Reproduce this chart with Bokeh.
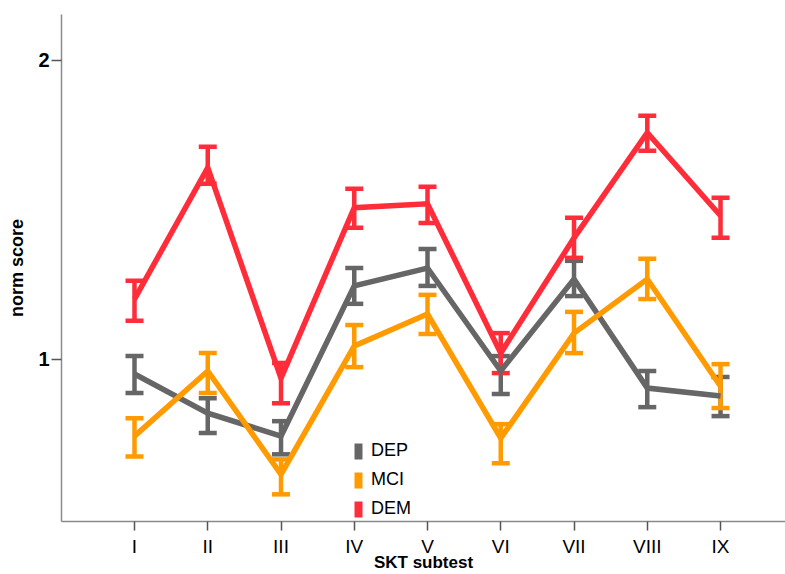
from bokeh.plotting import figure
from bokeh.models import Range1d, FixedTicker, Whisker, ColumnDataSource, Legend, LegendItem, TeeHead
from bokeh.embed import file_html
from bokeh.resources import INLINE

categories = ["I", "II", "III", "IV", "V", "VI", "VII", "VIII", "IX"]

dep_mean = [0.950, 0.819, 0.742, 1.245, 1.305, 0.960, 1.268, 0.903, 0.876]
dep_upper = [1.010, 0.869, 0.792, 1.305, 1.369, 1.010, 1.329, 0.960, 0.940]
dep_lower = [0.886, 0.752, 0.681, 1.185, 1.245, 0.883, 1.211, 0.839, 0.809]

mci_mean = [0.742, 0.960, 0.614, 1.044, 1.151, 0.735, 1.087, 1.268, 0.909]
mci_upper = [0.802, 1.020, 0.664, 1.114, 1.215, 0.782, 1.158, 1.336, 0.983]
mci_lower = [0.674, 0.886, 0.547, 0.973, 1.084, 0.651, 1.020, 1.201, 0.836]

dem_mean = [1.201, 1.641, 0.936, 1.507, 1.520, 1.020, 1.406, 1.758, 1.480]
dem_upper = [1.262, 1.711, 0.987, 1.570, 1.577, 1.087, 1.473, 1.815, 1.540]
dem_lower = [1.128, 1.587, 0.852, 1.440, 1.456, 0.953, 1.339, 1.698, 1.406]

groups = ["DEP", "MCI", "DEM"]
colors = ["#666666", "#ff9a00", "#ff2d3a"]
y_ticks = [1, 2]

FONT = "Liberation Sans"

p = figure(width=785, height=574, output_backend="svg", toolbar_location=None,
           x_range=Range1d(0.0034, 9.887), y_range=Range1d(0.456, 2.154),
           min_border_left=61, min_border_top=14, min_border_bottom=0, min_border_right=0)
p.outline_line_color = None
p.xgrid.visible = False
p.ygrid.visible = False
p.background_fill_color = "white"
p.border_fill_color = "white"

xs = list(range(1, len(categories) + 1))

series = [
    (dep_mean, dep_upper, dep_lower),
    (mci_mean, mci_upper, mci_lower),
    (dem_mean, dem_upper, dem_lower),
]

items = []
for name, color, (m, u, l) in zip(groups, colors, series):
    src = ColumnDataSource(dict(x=xs, m=m, u=u, l=l))
    p.line("x", "m", source=src, line_color=color, line_width=5.5, line_join="miter")
    w = Whisker(base="x", upper="u", lower="l", source=src, line_color=color, line_width=4.5,
                upper_head=TeeHead(size=18, line_color=color, line_width=4.5),
                lower_head=TeeHead(size=18, line_color=color, line_width=4.5))
    p.add_layout(w)
    dummy = p.rect(x=[float("nan")], y=[float("nan")], width=0.1, height=0.1,
                   fill_color=color, line_color=None)
    items.append(LegendItem(label=name, renderers=[dummy]))

legend = Legend(items=items, location=(292, 2), orientation="vertical",
                glyph_width=10, glyph_height=20, label_height=20, spacing=8,
                label_standoff=8, padding=0, margin=0,
                border_line_color=None, background_fill_alpha=0,
                label_text_font=FONT, label_text_font_size="18px", label_text_color="black")
p.add_layout(legend)

p.xaxis.ticker = FixedTicker(ticks=xs)
p.xaxis.major_label_overrides = {x: c for x, c in zip(xs, categories)}
p.yaxis.ticker = FixedTicker(ticks=y_ticks)

for ax in [p.xaxis[0], p.yaxis[0]]:
    ax.axis_line_color = "#8a8a8a"
    ax.axis_line_width = 1.5
    ax.major_tick_line_color = "#555555"
    ax.major_tick_line_width = 1.5
    ax.major_tick_in = 0
    ax.minor_tick_in = 0
    ax.minor_tick_out = 0
    ax.major_label_text_color = "black"
    ax.major_label_text_font = FONT
    ax.axis_label_text_font = FONT
    ax.axis_label_text_font_style = "bold"
    ax.axis_label_text_color = "black"

p.xaxis.major_tick_out = 9
p.xaxis.major_label_text_font_size = "19px"
p.xaxis.major_label_standoff = 5
p.xaxis.axis_label = "SKT subtest"
p.xaxis.axis_label_text_font_size = "17px"
p.xaxis.axis_label_standoff = -7

p.yaxis.major_tick_out = 10
p.yaxis.major_label_text_font_size = "20px"
p.yaxis.major_label_text_font_style = "bold"
p.yaxis.major_label_standoff = 2
p.yaxis.axis_label = "norm score"
p.yaxis.axis_label_text_font_size = "18px"
p.yaxis.axis_label_standoff = 8

open("out.html", "w").write(file_html(p, INLINE))
